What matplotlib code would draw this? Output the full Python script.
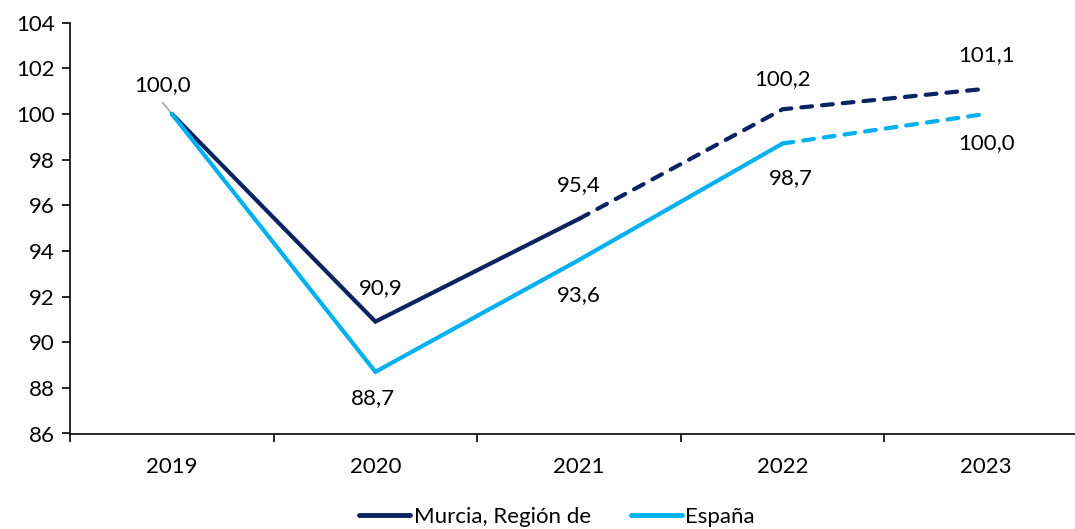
import matplotlib
matplotlib.use("Agg")
import matplotlib.pyplot as plt
from matplotlib.lines import Line2D

years = ["2019", "2020", "2021", "2022", "2023"]
murcia = [100.0, 90.9, 95.4, 100.2, 101.1]
espana = [100.0, 88.7, 93.6, 98.7, 100.0]
murcia_solid_until = 2   # index of last solid point
espana_solid_until = 3
yticks = [86, 88, 90, 92, 94, 96, 98, 100, 102, 104]

NAVY = "#0B2461"
LIGHT = "#00B0F0"

plt.rcParams['font.family'] = ['Lato', 'DejaVu Sans']
FS = 16

fig = plt.figure(figsize=(10.75, 5.29), dpi=100)
ax = fig.add_axes([70/1075, (529-433.5)/529, 1018/1075, 411/529])

x = list(range(len(years)))

def draw(vals, split, color, z):
    ax.plot(x[:split+1], vals[:split+1], color=color, lw=3.0,
            solid_capstyle='round', solid_joinstyle='miter', zorder=z)
    ax.plot(x[split:], vals[split:], color=color, lw=3.0,
            linestyle=(0, (2.6, 2.4)), dash_capstyle='round',
            dash_joinstyle='round', zorder=z)

draw(murcia, murcia_solid_until, NAVY, 3)
draw(espana, espana_solid_until, LIGHT, 4)

def fmt(v):
    return f"{v:.1f}".replace(".", ",")

# 2019 shared label with leader line
ax.annotate(fmt(murcia[0]), xy=(x[0], murcia[0]), xytext=(-6.5, 20.5),
            textcoords='offset points', ha='center', va='center', fontsize=FS)
ax.annotate("", xy=(x[0], murcia[0]), xytext=(-6.5, 8),
            textcoords='offset points',
            arrowprops=dict(arrowstyle='-', color='#A6A6A6', lw=1.2,
                            shrinkA=0, shrinkB=0), zorder=2)
m_off = [None, (4, 24), (0, 24), (0, 22), (0, 24)]
e_off = [None, (-2, -19), (0, -25), (6, -25), (0, -21)]
for i in range(1, len(years)):
    ax.annotate(fmt(murcia[i]), xy=(x[i], murcia[i]), xytext=m_off[i],
                textcoords='offset points', ha='center', va='center', fontsize=FS)
    ax.annotate(fmt(espana[i]), xy=(x[i], espana[i]), xytext=e_off[i],
                textcoords='offset points', ha='center', va='center', fontsize=FS)

ax.set_xlim(-0.5, len(years) - 0.5)
ax.set_ylim(86, 104)
ax.set_yticks(yticks)
ax.set_yticklabels([str(t) for t in yticks], fontsize=FS)
ax.set_xticks(x)
ax.set_xticklabels(years, fontsize=FS)
ax.set_xticks([i + 0.5 for i in range(-1, len(years))], minor=True)
ax.tick_params(axis='x', which='major', length=0, pad=17)
ax.tick_params(axis='x', which='minor', length=6, width=1.2, direction='out')
ax.tick_params(axis='y', length=6, width=1.2, direction='out', pad=5)

for s in ['top', 'right']:
    ax.spines[s].set_visible(False)
for s in ['left', 'bottom']:
    ax.spines[s].set_linewidth(1.2)
    ax.spines[s].set_color('black')

handles = [Line2D([], [], color=NAVY, lw=3.5, solid_capstyle='round'),
           Line2D([], [], color=LIGHT, lw=3.5, solid_capstyle='round')]
fig.legend(handles, ["Murcia, Región de", "España"], loc='center',
           bbox_to_anchor=(557/1075, 1 - 517/529), ncol=2, frameon=False,
           fontsize=FS, handlelength=2.3, handletextpad=0.15, columnspacing=1.8,
           borderpad=0)

fig.savefig("out.png", dpi=100)
